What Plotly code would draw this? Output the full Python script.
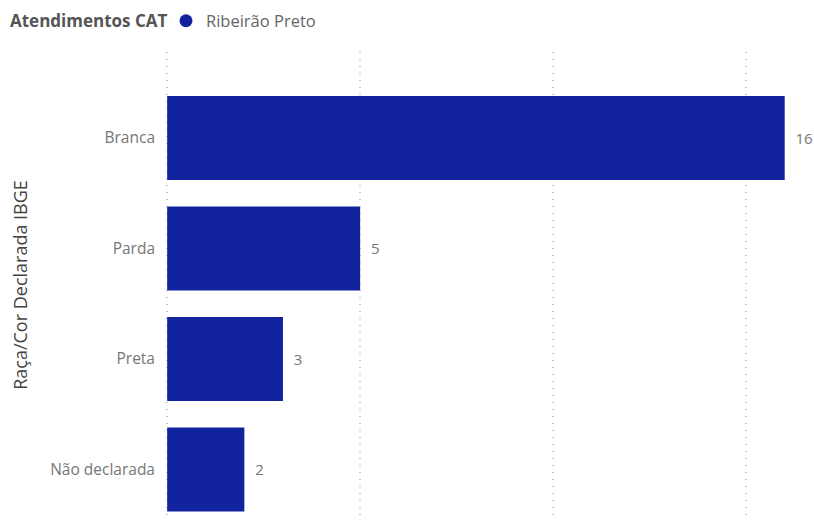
import plotly.graph_objects as go

# Atendimentos CAT por raça/cor declarada (Ribeirão Preto)
categorias = ["Branca", "Parda", "Preta", "Não declarada"]
atendimentos = [16, 5, 3, 2]
serie = "Ribeirão Preto"
titulo_legenda = "Atendimentos CAT"
titulo_eixo_y = "Raça/Cor Declarada IBGE"
ticks_x = [0, 5, 10, 15]

AZUL = "#12239E"
FONTE = "Open Sans, Noto Sans, DejaVu Sans, sans-serif"
W, H = 814, 522

fig = go.Figure()

fig.add_trace(go.Bar(
    y=categorias,
    x=atendimentos,
    orientation="h",
    marker=dict(color=AZUL, line=dict(width=0)),
    width=0.76,
    text=atendimentos,
    texttemplate="  %{x}",
    textposition="outside",
    textfont=dict(family=FONTE, size=15, color="#777777"),
    cliponaxis=False,
    showlegend=False,
    hoverinfo="skip",
))

# legend entry drawn as a round marker
fig.add_trace(go.Scatter(
    x=[None], y=[None],
    mode="markers",
    marker=dict(color=AZUL, size=13, symbol="circle"),
    name=serie,
    showlegend=True,
))

fig.update_layout(
    width=W,
    height=H,
    margin=dict(l=166, r=10, t=52, b=4),
    paper_bgcolor="white",
    plot_bgcolor="white",
    font=dict(family=FONTE),
    bargap=0.24,
    title=dict(
        text="<b>" + titulo_legenda + "</b>",
        xref="container", yref="container",
        x=10 / W, y=1 - 21 / H, xanchor="left", yanchor="middle",
        font=dict(family=FONTE, size=17, color="#555555"),
    ),
    showlegend=True,
    legend=dict(
        orientation="h",
        xref="container", yref="container",
        x=166 / W, y=1 - 21 / H, xanchor="left", yanchor="middle",
        font=dict(family=FONTE, size=16.5, color="#666666"),
        itemwidth=30,
        tracegroupgap=0,
    ),
    xaxis=dict(
        range=[-0.03, 16.5],
        tickvals=ticks_x,
        showticklabels=False,
        showgrid=True,
        gridcolor="#C4C4C4",
        griddash="1px,6px",
        gridwidth=1.5,
        zeroline=False,
        showline=False,
        fixedrange=True,
    ),
    yaxis=dict(
        categoryorder="array",
        categoryarray=categorias,
        range=[3.439, -0.778],
        showgrid=False,
        zeroline=False,
        showline=False,
        ticks="",
        ticklabelstandoff=10,
        tickfont=dict(family=FONTE, size=15.5, color="#777777"),
        title=dict(text=titulo_eixo_y,
                   font=dict(family=FONTE, size=18, color="#444444"),
                   standoff=17),
    ),
)

fig.write_html("out.html")
